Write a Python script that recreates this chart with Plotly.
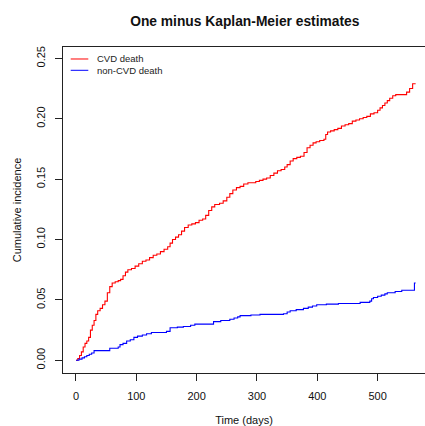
import plotly.graph_objects as go

# Cumulative incidence (one minus Kaplan-Meier) step estimates by cause
cvd_days = [0, 3, 6, 9, 12, 15, 18, 21, 24, 27, 30, 33, 36, 40, 44, 48, 52, 56,
            60, 65, 70, 74, 78, 82, 86, 92, 98, 104, 110, 116, 122, 128, 134, 140,
            146, 152, 156, 160, 165, 170, 175, 180, 186, 192, 198, 204, 210, 215,
            220, 225, 230, 238, 244, 250, 255, 260, 266, 272, 278, 285, 298, 304,
            310, 316, 322, 328, 334, 340, 346, 350, 355, 360, 366, 372, 378, 383,
            388, 393, 398, 404, 411, 414, 417, 422, 428, 434, 440, 446, 452, 458,
            464, 470, 476, 482, 488, 494, 500, 504, 508, 512, 516, 520, 525, 530,
            548, 553, 558, 563]
cvd_inc = [0.000, 0.0015, 0.004, 0.007, 0.011, 0.014, 0.016, 0.019, 0.025, 0.029,
           0.033, 0.038, 0.041, 0.043, 0.046, 0.049, 0.056, 0.061, 0.064, 0.065,
           0.066, 0.067, 0.070, 0.073, 0.075, 0.076, 0.078, 0.080, 0.082, 0.083,
           0.085, 0.087, 0.088, 0.090, 0.092, 0.094, 0.097, 0.100, 0.102, 0.104,
           0.107, 0.110, 0.112, 0.113, 0.114, 0.116, 0.117, 0.120, 0.124, 0.127,
           0.129, 0.130, 0.132, 0.135, 0.138, 0.141, 0.143, 0.144, 0.146, 0.147,
           0.148, 0.149, 0.150, 0.151, 0.153, 0.155, 0.157, 0.158, 0.160, 0.162,
           0.165, 0.167, 0.168, 0.169, 0.172, 0.176, 0.178, 0.180, 0.181, 0.182,
           0.183, 0.187, 0.189, 0.190, 0.191, 0.192, 0.194, 0.195, 0.196, 0.198,
           0.199, 0.200, 0.201, 0.202, 0.204, 0.205, 0.207, 0.209, 0.211, 0.213,
           0.215, 0.217, 0.219, 0.220, 0.222, 0.225, 0.229, 0.229]

noncvd_days = [0, 5, 10, 14, 18, 22, 26, 30, 56, 70, 73, 78, 84, 90, 96, 102, 110,
               117, 125, 150, 156, 168, 178, 190, 197, 228, 240, 255, 262, 268, 272,
               290, 305, 344, 350, 355, 365, 377, 385, 392, 399, 415, 435, 471, 487,
               490, 493, 500, 506, 512, 516, 529, 540, 561, 563]
noncvd_inc = [0.000, 0.001, 0.002, 0.003, 0.004, 0.005, 0.006, 0.008, 0.010, 0.011,
              0.013, 0.014, 0.016, 0.017, 0.019, 0.020, 0.021, 0.022, 0.023, 0.024,
              0.027, 0.0275, 0.028, 0.029, 0.030, 0.032, 0.033, 0.034, 0.035, 0.036,
              0.037, 0.0375, 0.038, 0.0385, 0.040, 0.041, 0.042, 0.043, 0.044, 0.045,
              0.046, 0.0465, 0.047, 0.048, 0.049, 0.051, 0.052, 0.053, 0.054, 0.055,
              0.056, 0.057, 0.058, 0.064, 0.064]

x_ticks = [0, 100, 200, 300, 400, 500]
y_ticks = [0.00, 0.05, 0.10, 0.15, 0.20, 0.25]
y_tick_text = ["0.00", "0.05", "0.10", "0.15", "0.20", "0.25"]

series_names = ["CVD death", "non-CVD death"]
series_colors = ["#FF0000", "#0000FF"]

FONT = "Liberation Sans, Arial, sans-serif"

fig = go.Figure()
for days, inc, name, color in [(cvd_days, cvd_inc, series_names[0], series_colors[0]),
                               (noncvd_days, noncvd_inc, series_names[1], series_colors[1])]:
    fig.add_trace(go.Scatter(x=days, y=inc, mode="lines", name=name,
                             line=dict(color=color, width=1.1, shape="hv"),
                             showlegend=False, hoverinfo="skip"))

axis_common = dict(showgrid=False, zeroline=False, showline=True, linecolor="#222",
                   linewidth=1, ticks="outside", ticklen=7, tickcolor="#222", tickwidth=1,
                   tickfont=dict(family=FONT, size=11, color="#111"))

fig.update_xaxes(range=[-21.5, 578.5], tickvals=x_ticks, mirror=True,
                 ticklabelstandoff=6,
                 title=dict(text="Time (days)", font=dict(family=FONT, size=11, color="#111"),
                            standoff=16),
                 **axis_common)
fig.update_yaxes(range=[-0.0105, 0.2594], tickvals=y_ticks, ticktext=y_tick_text,
                 tickangle=-90, ticklabelstandoff=6,
                 title=dict(text="Cumulative incidence",
                            font=dict(family=FONT, size=11, color="#111"), standoff=10),
                 **axis_common)

# Key in the upper left corner of the panel
legend_y = [0.9632, 0.9285]
for i, (name, color) in enumerate(zip(series_names, series_colors)):
    fig.add_shape(type="line", xref="paper", yref="paper",
                  x0=0.0213, x1=0.0699, y0=legend_y[i], y1=legend_y[i],
                  line=dict(color=color, width=1))
    fig.add_annotation(xref="paper", yref="paper", x=0.0884, y=legend_y[i],
                       text=name, showarrow=False, xanchor="left", yanchor="middle",
                       font=dict(family=FONT, size=9.5, color="#222"))

fig.update_layout(
    width=425, height=426,
    margin=dict(l=63, r=0, t=47, b=53),
    paper_bgcolor="white", plot_bgcolor="white",
    title=dict(text="<b>One minus Kaplan-Meier estimates</b>", x=0.576, xanchor="center",
               y=1 - 21 / 426, yanchor="middle",
               font=dict(family=FONT, size=13.8, color="#111")),
)

fig.write_html("out.html")
